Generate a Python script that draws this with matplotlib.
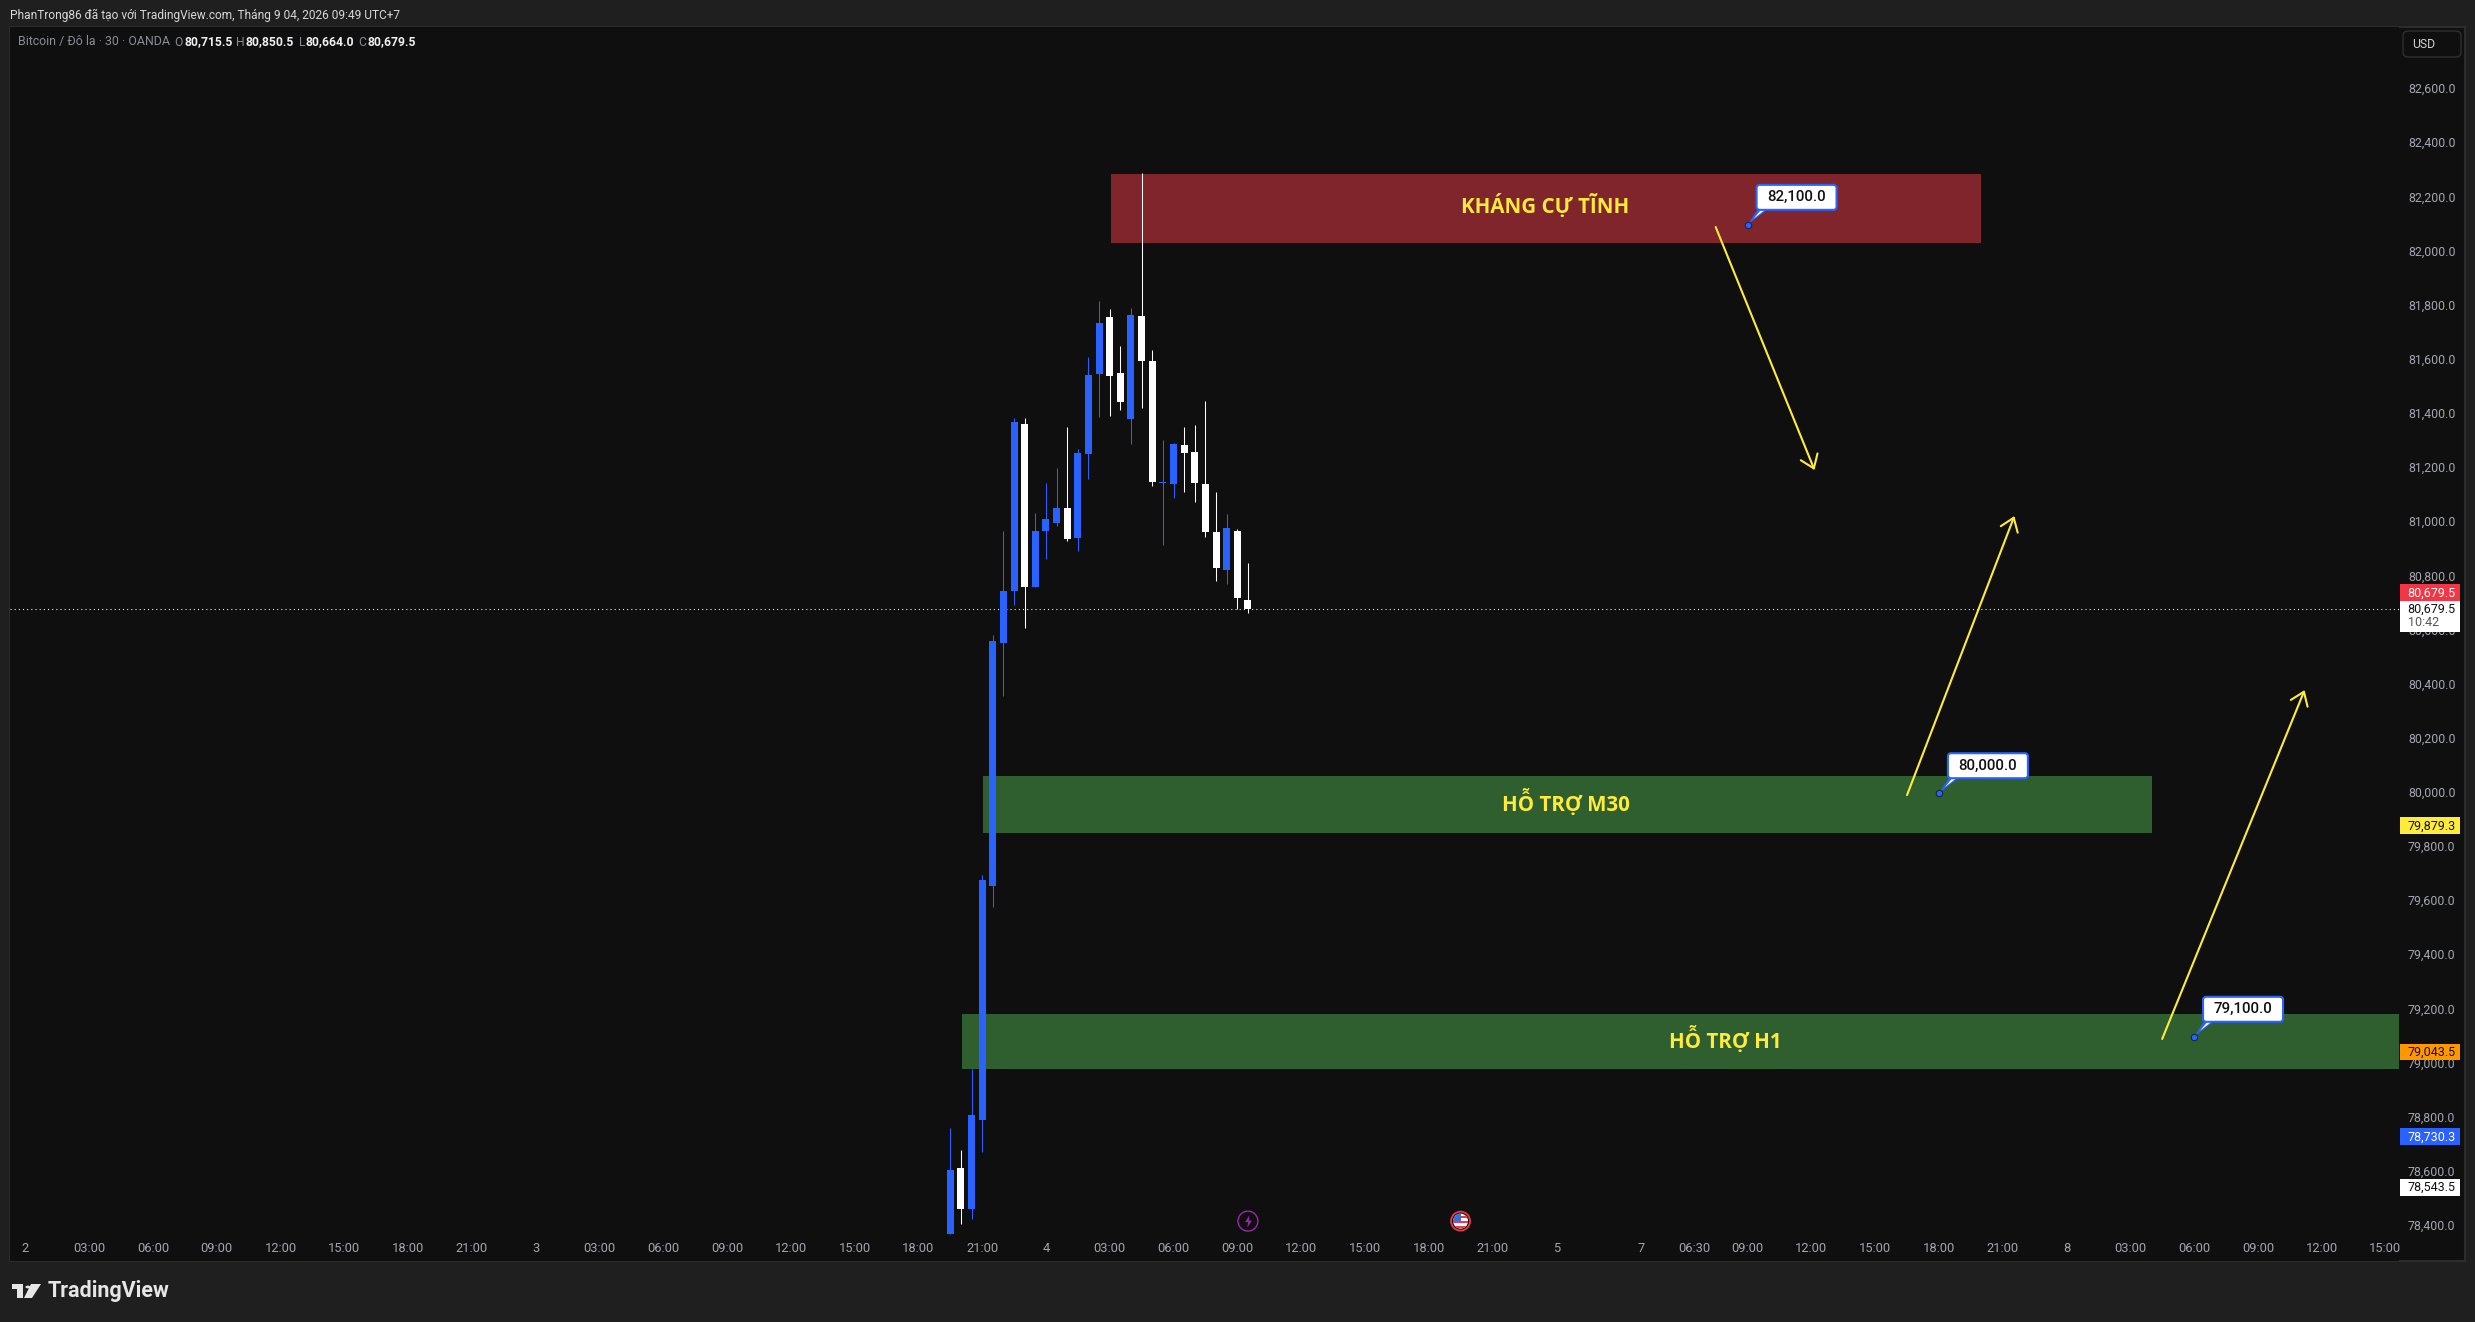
import matplotlib
matplotlib.use("Agg")
import matplotlib.pyplot as plt
from matplotlib.patches import Rectangle, FancyBboxPatch, Polygon, Circle
from matplotlib.path import Path
from matplotlib.transforms import IdentityTransform, ScaledTranslation

plt.rcParams['font.family'] = ['Roboto', 'DejaVu Sans']

W, H = 2475, 1322

# candles, 30 min bars, index 0 is Apr 2 00:00
first_bar = 87
opens = [78371, 78615, 78464, 78793, 79657, 80555, 80747, 81364, 80762, 80969, 80998, 81054, 80943, 81253, 81549,
         81759, 81552, 81383, 81763, 81597, 81146, 81142, 81286, 81261, 81142, 80965, 80825, 80969, 80715.5]
highs = [78763, 78682, 78981, 79698, 80584, 80969, 81386, 81386, 81035, 81146, 81201, 81353, 81272, 81612, 81819,
         81789, 81652, 81793, 82291, 81637, 81305, 81294, 81353, 81360, 81449, 81113, 81032, 80976, 80850.5]
lows = [78371, 78408, 78427, 78674, 79579, 80359, 80695, 80610, 80762, 80865, 80987, 80932, 80895, 81161, 81390,
        81394, 81416, 81290, 81423, 81135, 80917, 81091, 81113, 81076, 80947, 80784, 80773, 80679, 80664]
closes = [78608, 78464, 78811, 79679, 80562, 80747, 81371, 80762, 80969, 81013, 81054, 80939, 81257, 81545, 81737,
          81541, 81445, 81767, 81597, 81150, 81150, 81290, 81257, 81146, 80965, 80832, 80980, 80721, 80679.5]
last_price = 80679.5

# zones: start bar, end bar, low, high, label, label bar
zone_starts = [102.1, 90.1, 88.1]
zone_ends = [184.0, 200.0, 223.3]
zone_lows = [82033, 79853, 78981]
zone_highs = [82288, 80063, 79184]
zone_labels = ['KHÁNG CỰ TĨNH', 'HỖ TRỢ M30', 'HỖ TRỢ H1']
zone_label_bars = [143.0, 144.9, 159.9]
zone_colors = ['#7f252b', '#2f5f2f', '#2f5f2f']

callout_bars = [162.0, 180.0, 204.0]
callout_prices = [82100, 80000, 79100]
callout_texts = ['82,100.0', '80,000.0', '79,100.0']

arrow_from_bars = [159.0, 177.0, 201.0]
arrow_from_prices = [82092, 79993, 79092]
arrow_to_bars = [168.3, 187.1, 214.4]
arrow_to_prices = [81194, 81024, 80381]

price_ticks = list(range(78400, 82601, 200))

time_bars = [0, 6, 12, 18, 24, 30, 36, 42, 48, 54, 60, 66, 72, 78, 84, 90, 96, 102, 108, 114, 120, 126, 132, 138,
             144, 152, 157, 162, 168, 174, 180, 186, 192, 198, 204, 210, 216, 222]
time_labels = ['2', '03:00', '06:00', '09:00', '12:00', '15:00', '18:00', '21:00',
               '3', '03:00', '06:00', '09:00', '12:00', '15:00', '18:00', '21:00',
               '4', '03:00', '06:00', '09:00', '12:00', '15:00', '18:00', '21:00',
               '5', '7', '06:30', '09:00', '12:00', '15:00', '18:00', '21:00',
               '8', '03:00', '06:00', '09:00', '12:00', '15:00']

# price scale tags: level, text, fill, text colour
tag_levels = [80741, 79879.3, 79043.5, 78730.3, 78543.5]
tag_texts = ['80,679.5', '79,879.3', '79,043.5', '78,730.3', '78,543.5']
tag_fills = ['#f23645', '#ffeb3b', '#ff9800', '#2962ff', '#ffffff']
tag_inks = ['#ffffff', '#111111', '#111111', '#ffffff', '#111111']

BG = '#0f0f0f'
FRAME = '#1f1f1f'
BLUE = '#2962ff'
YELLOW = '#ffeb3b'
GREY = '#a3a6af'


def ftext(x, y, s, **kw):
    # x, y are picture pixels from the top left
    kw.setdefault('va', 'center')
    return fig.text(x / W, 1 - y / H, s, **kw)


def fpoly(points, color):
    fig.add_artist(Polygon([(x / W, 1 - y / H) for x, y in points], closed=True, fc=color, ec='none',
                           transform=fig.transFigure))


fig = plt.figure(figsize=(W / 100, H / 100), dpi=100, facecolor=FRAME)
fig.add_artist(Rectangle((10 / W, 1 - 1261 / H), 2455 / W, 1234 / H, fc=BG, ec='#2c2c2c', lw=1.5,
                         transform=fig.transFigure, zorder=-1))

ax = fig.add_axes([10 / W, 1 - 1261 / H, 2389 / W, 1234 / H])
ax.set_facecolor(BG)
for s in ax.spines.values():
    s.set_visible(False)
ax.set_xlim(-1.45, 223.28)
ax.set_ylim(78271.6, 82831)

ax.yaxis.tick_right()
ax.set_yticks(price_ticks)
ax.set_yticklabels([f'{p:,.1f}' for p in price_ticks])
ax.tick_params(axis='y', length=0, pad=6.5, labelsize=8.9, labelcolor=GREY)
# digits sit a touch high of the tick in the reference
up = ScaledTranslation(0, 1.0 / 72, fig.dpi_scale_trans)
for lab in ax.get_yticklabels():
    lab.set_transform(lab.get_transform() + up)
ax.set_xticks(time_bars)
ax.set_xticklabels(time_labels)
ax.tick_params(axis='x', length=0, pad=-13.5, labelsize=9.3, labelcolor=GREY)

# zones
for i in range(len(zone_labels)):
    ax.add_patch(Rectangle((zone_starts[i], zone_lows[i]), zone_ends[i] - zone_starts[i],
                           zone_highs[i] - zone_lows[i], fc=zone_colors[i], ec='none', zorder=1))
    ax.annotate(zone_labels[i], (zone_label_bars[i], (zone_lows[i] + zone_highs[i]) / 2), xytext=(0, 1.5),
                textcoords='offset points', color=YELLOW, fontsize=14.8, fontweight='bold', ha='center', va='center',
                zorder=5, family='Open Sans')

# candles
for i in range(len(opens)):
    x = first_bar + i
    c = BLUE if closes[i] >= opens[i] else '#ffffff'
    ax.vlines(x, lows[i], highs[i], color=c, lw=0.75, zorder=3)
    ax.bar(x, abs(closes[i] - opens[i]), width=0.66, bottom=min(opens[i], closes[i]), color=c, lw=0, zorder=3)

ax.axhline(last_price, color='#ffffff', lw=0.75, ls=(0, (1, 3)), zorder=2)

# trend arrows
for i in range(len(arrow_from_bars)):
    ax.annotate('', xy=(arrow_to_bars[i], arrow_to_prices[i]), xytext=(arrow_from_bars[i], arrow_from_prices[i]),
                arrowprops=dict(arrowstyle='->,head_length=0.9,head_width=0.65', color=YELLOW, lw=1.5,
                                mutation_scale=10, shrinkA=0, shrinkB=0), zorder=4)

# price callouts
for i in range(len(callout_bars)):
    px, py = ax.transData.transform((callout_bars[i], callout_prices[i]))
    bx, by = px + 9, py + 15
    ax.add_patch(Polygon([(bx + 2, by + 2), (bx + 13, by + 2), (px, py)], fc=BLUE, ec='none',
                         transform=IdentityTransform(), zorder=6))
    ax.add_patch(Polygon([(bx + 6, by + 2), (bx + 11, by + 2), (px + 6, py + 6)], fc='#ffffff', ec='none',
                         transform=IdentityTransform(), zorder=6))
    ax.add_patch(FancyBboxPatch((bx, by), 80, 25, boxstyle='round,pad=0,rounding_size=3', fc='#ffffff', ec=BLUE,
                                lw=1.5, transform=IdentityTransform(), zorder=6))
    ax.text(bx + 40, by + 12.5, callout_texts[i], color='#111111', fontsize=10.8, fontweight='medium', ha='center',
            va='center', transform=IdentityTransform(), zorder=7)
    ax.scatter(callout_bars[i], callout_prices[i], s=22, color=BLUE, edgecolor='#12203f', lw=0.7, zorder=7)

# tags on the price scale
yt = ax.get_yaxis_transform()
tag_w = 60 / 2389
tag_h = 62
for i in range(len(tag_levels)):
    ax.add_patch(Rectangle((1.0003, tag_levels[i] - tag_h / 2), tag_w, tag_h, fc=tag_fills[i], ec='none',
                           transform=yt, clip_on=False, zorder=6))
    ax.text(1.0003 + 8 / 2389, tag_levels[i] - 1, tag_texts[i], color=tag_inks[i], fontsize=9.0, ha='left',
            va='center', transform=yt, zorder=7)
# white countdown tag under the red one
ax.add_patch(Rectangle((1.0003, 80596), tag_w, 114, fc='#ffffff', ec='none', transform=yt, clip_on=False, zorder=6))
ax.text(1.0003 + 8 / 2389, last_price, f'{last_price:,.1f}', color='#111111', fontsize=9.0, ha='left', va='center',
        transform=yt, zorder=7)
ax.text(1.0003 + 8 / 2389, 80630, '10:42', color='#555555', fontsize=9.0, ha='left', va='center', transform=yt,
        zorder=7)

# event icons on the time axis
ring_price = 78419
ax.scatter(115, ring_price, s=205, fc='none', ec='#9c27b0', lw=1.0, zorder=5)
bolt = Path([(0.15, 1), (-0.55, -0.1), (-0.05, -0.1), (-0.2, -1), (0.55, 0.15), (0.05, 0.15), (0.15, 1)])
ax.scatter(115, ring_price, s=80, marker=bolt, color='#9c27b0', lw=0, zorder=6)

fx, fy = ax.transData.transform((135, ring_price))
flag = Circle((fx, fy), 7.5, fc='#ffffff', ec='none', transform=IdentityTransform(), zorder=6)
ax.add_patch(flag)
for k in range(3):
    st = ax.add_patch(Rectangle((fx - 8, fy - 7 + k * 5), 16, 2.5, fc='#f23645', ec='none',
                                transform=IdentityTransform(), zorder=6))
    st.set_clip_path(flag)
cn = ax.add_patch(Rectangle((fx - 8, fy), 8, 8, fc='#3b6fd8', ec='none', transform=IdentityTransform(), zorder=6))
cn.set_clip_path(flag)
ax.add_patch(Circle((fx, fy), 9.5, fc='none', ec='#f23645', lw=1.3, transform=IdentityTransform(), zorder=6))

# header text
ftext(10, 15, 'PhanTrong86 đã tạo với TradingView.com, Tháng 9 04, 2026 09:49 UTC+7', color='#d8d8d8', fontsize=8.6)
ftext(18, 42, 'Bitcoin / Đô la · 30 · OANDA', color='#8a8d96', fontsize=8.9)
for letter, vx, val in [('O', 184, '80,715.5'), ('H', 246, '80,850.5'), ('L', 306, '80,664.0'), ('C', 367, '80,679.5')]:
    ftext(vx - 1, 42, letter, color='#8a8d96', fontsize=8.7, ha='right')
    ftext(vx, 42, val, color='#f0f0f0', fontsize=8.7, fontweight='bold')

# currency button
fig.add_artist(FancyBboxPatch((2403 / W, 1 - 57 / H), 58 / W, 26 / H, boxstyle='round,pad=0,rounding_size=0.002',
                              fc=BG, ec='#303030', lw=1, transform=fig.transFigure, mutation_aspect=W / H))
ftext(2412, 44, 'USD', color='#d0d0d0', fontsize=8.8)

# TradingView mark in the footer
fpoly([(12, 1284), (23, 1284), (23, 1298), (17, 1298), (17, 1289), (12, 1289)], '#e6e6e6')
fpoly([(31, 1284), (41, 1284), (32, 1298), (24, 1298)], '#e6e6e6')
fig.add_artist(Circle((28 / W, 1 - 1287 / H), 2.6 / W, fc='#e6e6e6', ec='none', transform=fig.transFigure))
ftext(48, 1291, 'TradingView', color='#e6e6e6', fontsize=15.5, fontweight='semibold')

fig.savefig('out.png', dpi=100, facecolor=FRAME)
